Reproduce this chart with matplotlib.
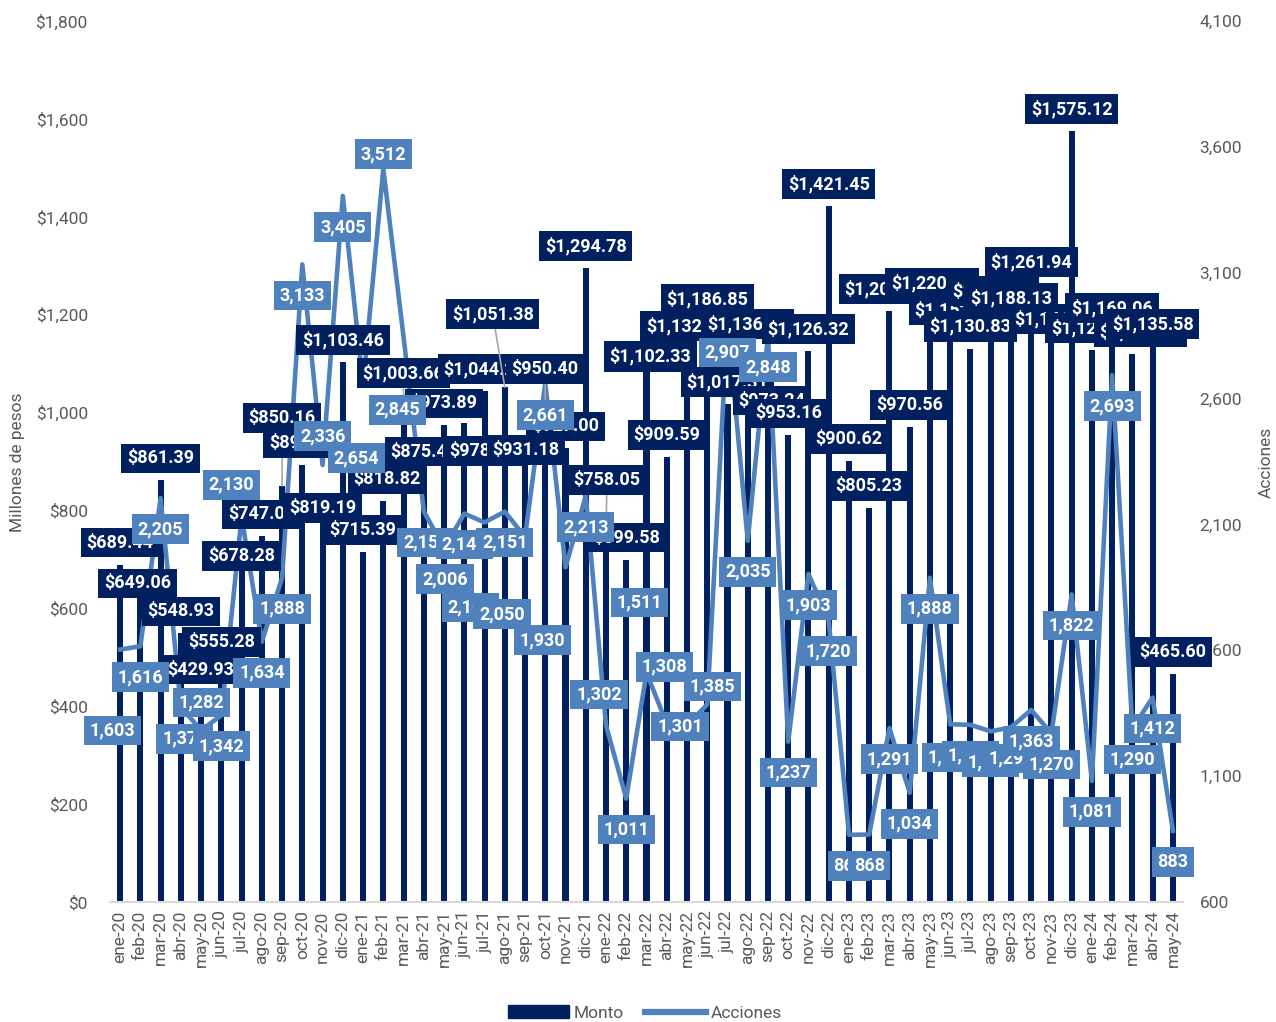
import matplotlib.pyplot as plt
import numpy as np
from matplotlib.lines import Line2D
from matplotlib.patches import Patch
from matplotlib.ticker import FuncFormatter

plt.rcParams['font.family'] = ['Roboto', 'DejaVu Sans']

meses = ['ene-20', 'feb-20', 'mar-20', 'abr-20', 'may-20', 'jun-20', 'jul-20', 'ago-20', 'sep-20', 'oct-20', 'nov-20', 'dic-20',
         'ene-21', 'feb-21', 'mar-21', 'abr-21', 'may-21', 'jun-21', 'jul-21', 'ago-21', 'sep-21', 'oct-21', 'nov-21', 'dic-21',
         'ene-22', 'feb-22', 'mar-22', 'abr-22', 'may-22', 'jun-22', 'jul-22', 'ago-22', 'sep-22', 'oct-22', 'nov-22', 'dic-22',
         'ene-23', 'feb-23', 'mar-23', 'abr-23', 'may-23', 'jun-23', 'jul-23', 'ago-23', 'sep-23', 'oct-23', 'nov-23', 'dic-23',
         'ene-24', 'feb-24', 'mar-24', 'abr-24', 'may-24']

# millones de pesos
monto = [689.44, 649.06, 861.39, 548.93, 429.93, 555.28, 678.28, 747.04, 850.16, 893.35, 819.19, 1103.46,
         715.39, 818.82, 1003.66, 875.45, 973.89, 978.52, 1044.20, 1051.38, 931.18, 950.40, 927.00, 1294.78,
         758.05, 699.58, 1102.33, 909.59, 1132.45, 1186.85, 1017.31, 1136.20, 973.24, 953.16, 1126.32, 1421.45,
         900.62, 805.23, 1207.85, 970.56, 1220.41, 1152.70, 1130.83, 1195.47, 1188.13, 1261.94, 1146.22, 1575.12,
         1128.40, 1169.06, 1118.90, 1135.58, 465.60]

acciones = [1603, 1616, 2205, 1375, 1282, 1342, 2130, 1634, 1888, 3133, 2336, 3405,
            2654, 3512, 2845, 2152, 2006, 2143, 2108, 2151, 2050, 2661, 1930, 2213,
            1302, 1011, 1511, 1308, 1301, 1385, 2907, 2035, 2848, 1237, 1903, 1720,
            867, 868, 1291, 1034, 1888, 1306, 1304, 1278, 1294, 1363, 1270, 1822,
            1081, 2693, 1290, 1412, 883]

NAVY = '#002060'
BLUE = '#4F81BD'
GRAY = '#595959'

# label placement tweaks (pixels, x right / y down), as in the original layout
off_monto = {1: (-3, -1), 5: (0, 12), 6: (0, -14), 8: (0, -68), 10: (0, 7), 13: (4, -22), 14: (0, -38),
             17: (18, 28), 19: (-12, -73), 20: (1, 4), 21: (0, -68), 24: (1, -51), 26: (4, -6),
             32: (4, -25), 38: (-4, -22), 40: (2, -22), 41: (5, -28), 43: (2, -26), 46: (4, -22),
             50: (8, -22)}
leader = {8, 14, 19, 21, 24}
off_acc = {0: (-8, 81), 3: (4, 32), 4: (0, -28), 6: (-10, -32), 10: (0, -29), 12: (-7, 73),
           13: (0, -15), 14: (-6, 73), 15: (2, 31), 16: (1, 31), 18: (-14, 85), 20: (-23, 77),
           21: (0, 32), 22: (-23, 73), 24: (-7, -31), 26: (-7, -70), 27: (-2, -57), 28: (-7, 1),
           29: (5, -18), 41: (0, 33)}

fig = plt.figure(figsize=(12.76, 10.22), dpi=100)
ax = fig.add_axes([110 / 1276, 1 - 902 / 1022, 1073 / 1276, 881 / 1022])
x = np.arange(len(meses))

ax.bar(x, monto, width=0.3, color=NAVY, zorder=2)
ax.set_xlim(-0.5, len(meses) - 0.5)
ax.set_ylim(0, 1800)
ax.set_yticks(np.arange(0, 1801, 200))
ax.yaxis.set_major_formatter(FuncFormatter(lambda v, p: f'${v:,.0f}'))
ax.set_xticks(x, meses, rotation=90)
for s in ['top', 'left', 'right']:
    ax.spines[s].set_visible(False)
ax.spines['bottom'].set_color('#D9D9D9')
ax.spines['bottom'].set_linewidth(1.5)
ax.tick_params(axis='y', length=0, pad=16, labelsize=12.5, labelcolor=GRAY)
ax.tick_params(axis='x', length=0, pad=6, labelsize=12.5, labelcolor=GRAY)

ax2 = ax.twinx()
ax2.plot(x, acciones, color=BLUE, lw=3.3, zorder=2, solid_joinstyle='round')
ax2.set_ylim(600, 4100)
ax2.set_yticks(np.arange(600, 4101, 500))
ax2.yaxis.set_major_formatter(FuncFormatter(lambda v, p: f'{v:,.0f}'))
for s in ['top', 'left', 'right', 'bottom']:
    ax2.spines[s].set_visible(False)
ax2.tick_params(axis='y', length=0, pad=12, labelsize=12.5, labelcolor=GRAY)

for i, v in enumerate(monto):
    dx, dy = off_monto.get(i, (0, -22))
    arrow = dict(arrowstyle='-', color='#A6A6A6', lw=1.2, shrinkA=0, shrinkB=0) if i in leader else None
    ax2.annotate(f'${v:,.2f}', xy=(i, v), xycoords=ax.transData,
                 xytext=(dx, -dy), textcoords='offset pixels',
                 ha='center', va='center', fontsize=13, fontweight='bold', color='white',
                 bbox=dict(boxstyle='square,pad=0.32', fc=NAVY, ec='none'),
                 arrowprops=arrow, zorder=5 + i * 0.01)

for i, v in enumerate(acciones):
    dx, dy = off_acc.get(i, (0, 31))
    ax2.annotate(f'{v:,}', xy=(i, v), xytext=(dx, -dy), textcoords='offset pixels',
                 ha='center', va='center', fontsize=13, fontweight='bold', color='white',
                 bbox=dict(boxstyle='square,pad=0.32', fc=BLUE, ec='none'),
                 zorder=7 + i * 0.01)

fig.text(18 / 1276, 1 - 462 / 1022, 'Millones de pesos', rotation=90, ha='center', va='center',
         fontsize=12.5, color=GRAY)
fig.text(1266 / 1276, 1 - 462 / 1022, 'Acciones', rotation=90, ha='center', va='center',
         fontsize=12.5, color=GRAY)

handles = [Patch(color=NAVY), Line2D([], [], color=BLUE, lw=4.5)]
fig.legend(handles, ['Monto', 'Acciones'], loc='center', bbox_to_anchor=(645 / 1276, 1 - 1013 / 1022),
           ncol=2, frameon=False, fontsize=12.5, labelcolor=GRAY, handlelength=3.5,
           columnspacing=1.2, handletextpad=0.3)

fig.savefig('out.png', dpi=100)
